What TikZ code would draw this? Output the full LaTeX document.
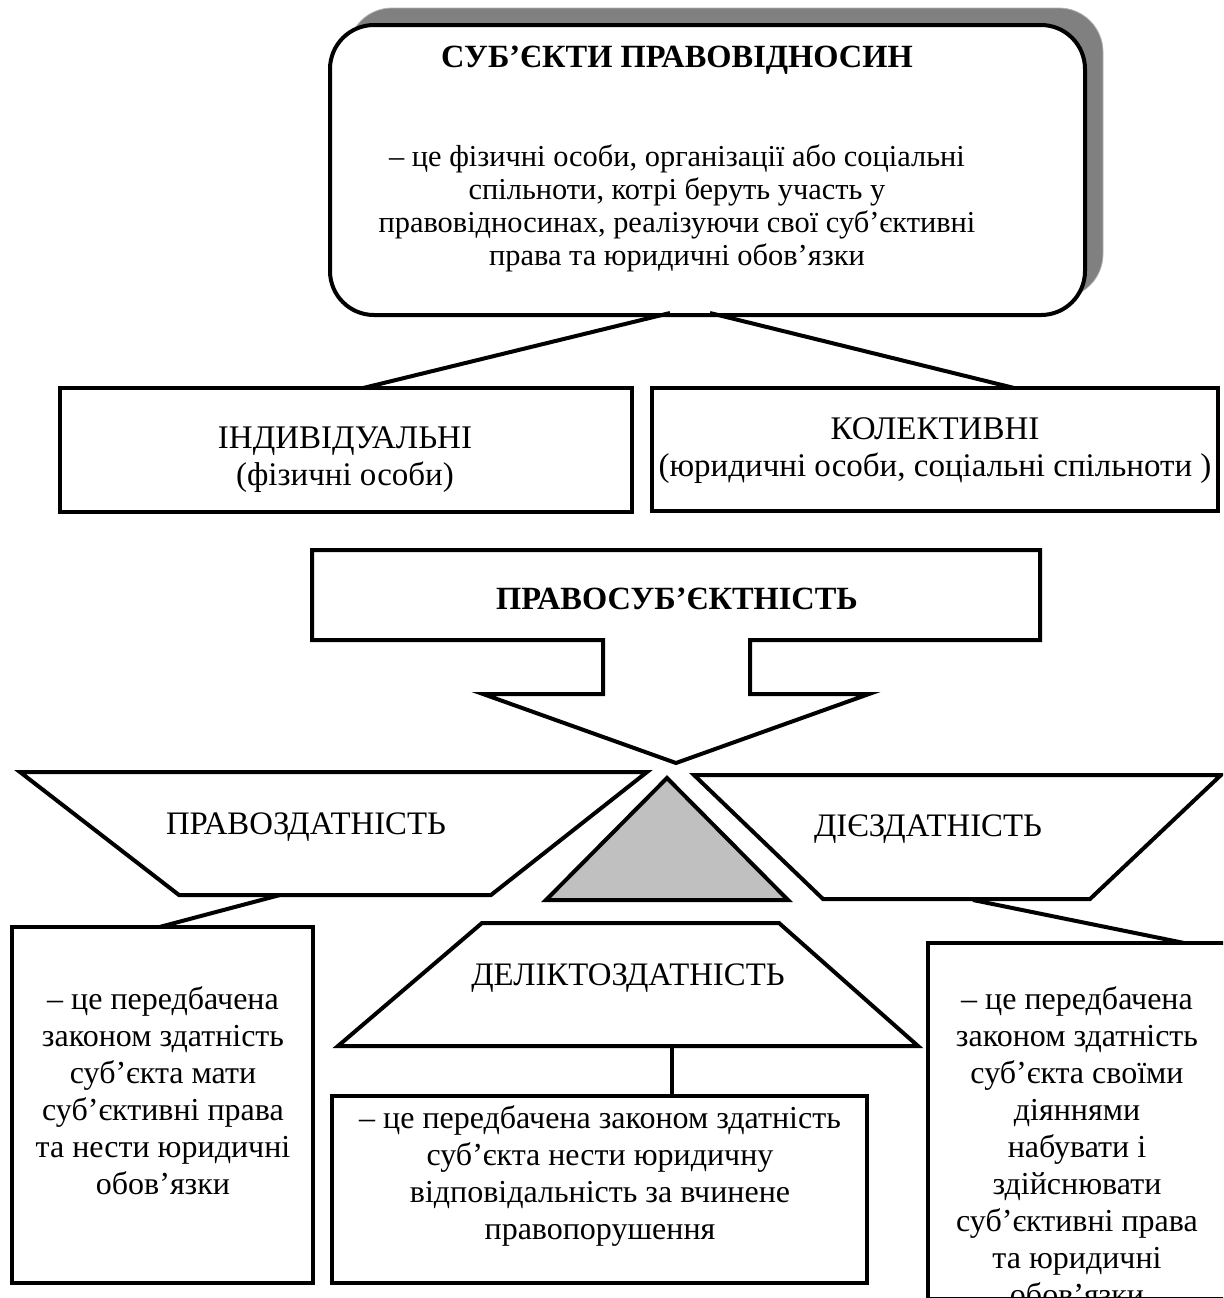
\documentclass[tikz,border=0pt]{standalone}
\usepackage{fontspec}
\setmainfont{Liberation Serif}
\usetikzlibrary{calc}
\definecolor{shadowgray}{RGB}{128,128,128}
\definecolor{trigray}{RGB}{192,192,192}
\begin{document}
\begin{tikzpicture}[x=0.5pt,y=-0.5pt,
  every node/.style={inner sep=0pt, outer sep=0pt},
  boxstyle/.style={draw=black, line width=2pt, fill=white, rectangle},
  shapestyle/.style={draw=black, line width=2pt, line join=miter},
  conn/.style={draw=black, line width=2pt},
  txt/.style={font=\fontsize{16}{18.5}\selectfont, align=center},
  bigtxt/.style={font=\fontsize{16.5}{18.5}\selectfont, align=center},
  midtxt/.style={font=\fontsize{16.4}{18.5}\selectfont, align=center},
  toptxt/.style={font=\fontsize{15.2}{16.5}\selectfont, align=center},
  boldtxt/.style={font=\fontsize{16.2}{18.5}\selectfont\bfseries, align=center}
]
\useasboundingbox (0,0) rectangle (1223,1298);
\clip (0,0) rectangle (1223,1298);

% top rounded box with shadow
\node[fill=shadowgray, draw=gray!60, line width=0.4pt, rounded corners=22pt,
  minimum width=377.5pt, minimum height=145pt] (topshadow) at (725.5,153) {};
\node[boxstyle, rounded corners=22pt, minimum width=377.5pt, minimum height=145pt] (top) at (707.5,170) {};
\node[boldtxt] (toptitle) at (677,60) {СУБ’ЄКТИ ПРАВОВІДНОСИН};
\node[toptxt] (topbody) at (677,208) {– це фізичні особи, організації або соціальні\\ спільноти, котрі беруть участь у\\ правовідносинах, реалізуючи свої суб’єктивні\\ права та юридичні обов’язки};

% individual / collective boxes
\node[boxstyle, minimum width=286pt, minimum height=62pt] (ind) at (346,450) {};
\node[bigtxt] (indtxt) at (345,460) {ІНДИВІДУАЛЬНІ\\ (фізичні особи)};
\node[boxstyle, minimum width=283pt, minimum height=61.5pt] (col) at (935,449.5) {};
\node[bigtxt] (coltxt) at (935,451) {КОЛЕКТИВНІ\\ (юридичні особи, соціальні спільноти )};

\coordinate (topL) at (670,313);
\coordinate (topR) at (710,313);
\draw[conn] (topL) -- ($(ind.north west)!0.53!(ind.north east)$);
\draw[conn] (topR) -- ($(col.north west)!0.64!(col.north east)$);

% block arrow
\draw[shapestyle, fill=white] (312,550) -- (1040,550) -- (1040,640) -- (750,640) -- (750,694)
  -- (869,694) -- (676,763) -- (483,694) -- (603,694) -- (603,640) -- (312,640) -- cycle;
\node[boldtxt] (pst) at (677,599) {ПРАВОСУБ’ЄКТНІСТЬ};

% left trapezoid
\draw[shapestyle, fill=white] (20,772) -- (647,772) -- (491,895) -- (179,895) -- cycle;
\node[midtxt] (pz) at (306,827) {ПРАВОЗДАТНІСТЬ};
\coordinate (pzB) at (280,895);

% triangle
\draw[shapestyle, fill=trigray] (667,778) -- (788,900) -- (546,900) -- cycle;

% right trapezoid
\draw[shapestyle, fill=white] (694,775) -- (1221,775) -- (1090,899) -- (823,899) -- cycle;
\node[midtxt] (dz) at (928,829) {ДІЄЗДАТНІСТЬ};
\coordinate (dzB) at (973,900);

% delict trapezoid
\draw[shapestyle, fill=white] (482,923) -- (779,923) -- (918,1046) -- (338,1046) -- cycle;
\node[midtxt] (dlz) at (628,978) {ДЕЛІКТОЗДАТНІСТЬ};
\coordinate (dlzB) at (672,1046);

% bottom boxes
\node[boxstyle, minimum width=150.5pt, minimum height=178pt] (lbox) at (162.5,1105) {};
\node[txt] (ltxt) at (163,1091) {– це передбачена\\ законом здатність\\ суб’єкта мати\\ суб’єктивні права\\ та нести юридичні\\ обов’язки};

\node[boxstyle, minimum width=267.5pt, minimum height=93.5pt] (mbox) at (599.5,1189.5) {};
\node[txt] (mtxt) at (600,1176) {– це передбачена законом здатність\\ суб’єкта нести юридичну\\ відповідальність за вчинене\\ правопорушення};

\node[boxstyle, minimum width=149pt, minimum height=178pt] (rbox) at (1077,1121) {};
\node[txt] (rtxt) at (1077,1146) {– це передбачена\\ законом здатність\\ суб’єкта своїми\\ діяннями\\ набувати і\\ здійснювати\\ суб’єктивні права\\ та юридичні\\ обов’язки};

% connectors
\draw[conn] (pzB) -- ($(lbox.north west)!0.49!(lbox.north east)$);
\draw[conn] (dzB) -- ($(rbox.north west)!0.86!(rbox.north east)$);
\draw[conn] (dlzB) -- (dlzB |- mbox.north);
\end{tikzpicture}
\end{document}
